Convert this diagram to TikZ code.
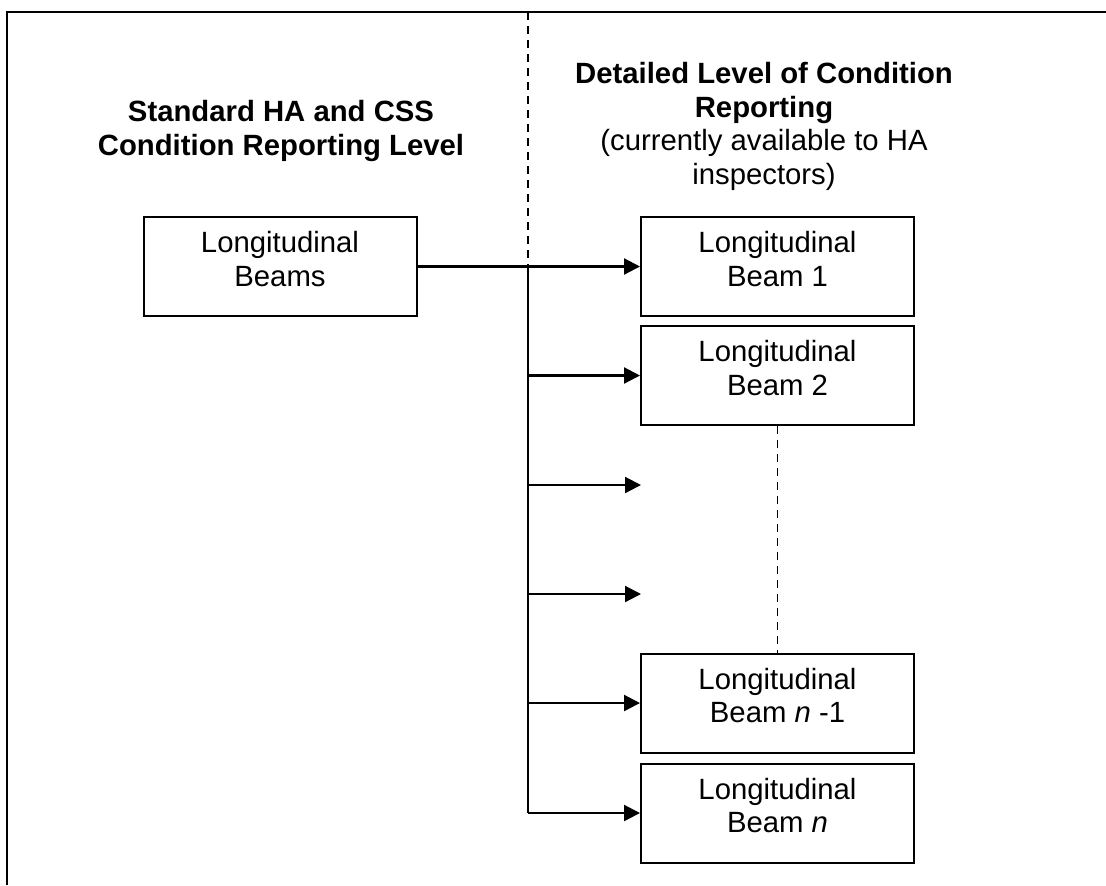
\documentclass[tikz,border=0pt]{standalone}
\usepackage{fontspec}
\setmainfont{Liberation Sans}
\usetikzlibrary{arrows.meta}
\tikzset{
  beam/.style={draw, line width=1pt, inner sep=0pt, minimum width=136.5pt, minimum height=49.5pt,
    align=center, text height=27pt, text depth=7.5pt},
  head/.style={align=center, inner sep=0pt},
  link/.style={line width=1.2pt},
  feed/.style={line width=1.1pt, -{Triangle[length=8pt,width=8pt]}},
  split/.style={line width=0.75pt, dash pattern=on 4pt off 3pt},
}
\begin{document}
\begin{tikzpicture}[x=0.5pt, y=-0.5pt, font=\fontsize{14.65}{16.75}\selectfont]
\useasboundingbox (0,0) rectangle (1106,885);
\draw[line width=1.4pt] (7,885) -- (7,12) -- (1106,12);
% headings
\node[head, anchor=base, font=\fontsize{14.65}{16.75}\selectfont\bfseries] (lhd) at (281,155) {Standard HA and CSS\\Condition Reporting Level};
\node[head, anchor=base] (rhd) at (764,184) {\textbf{Detailed Level of Condition}\\\textbf{Reporting}\\(currently available to HA\\inspectors)};
% boxes
\node[beam] (lb) at (280,266.5) {Longitudinal\\Beams};
\node[beam] (b1) at (777.5,266.5) {Longitudinal\\Beam 1};
\node[beam] (b2) at (777.5,375.5) {Longitudinal\\Beam 2};
\node[beam] (bn1) at (777.5,703) {Longitudinal\\Beam \textit{n} -1};
\node[beam] (bn) at (777.5,813) {Longitudinal\\Beam \textit{n}};
\coordinate (e3) at (641,485);
\coordinate (e4) at (641,594);
% trunk
\coordinate (top) at (528,12);
\coordinate (j0) at (528,266.5);
\coordinate (j1) at (528,375.5);
\coordinate (j2) at (528,485);
\coordinate (j3) at (528,594);
\coordinate (j4) at (528,703);
\coordinate (j5) at (528,813);
\draw[split] (top) -- (j0);
\draw[split] (b2.south) -- (bn1.north);
\draw[feed] (lb.east) -- (b1.west);
\draw[link] (j0) -- (j5);
\draw[feed] (j1) -- (b2.west);
\draw[feed] (j2) -- (e3);
\draw[feed] (j3) -- (e4);
\draw[feed] (j4) -- (bn1.west);
\draw[feed] (j5) -- (bn.west);
\end{tikzpicture}
\end{document}
